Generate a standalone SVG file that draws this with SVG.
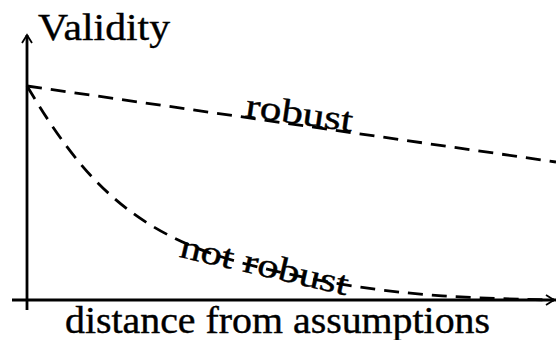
<svg xmlns="http://www.w3.org/2000/svg" width="556" height="340" viewBox="0 0 556 340">
<style>
.t{font-family:"Liberation Serif",serif;fill:#000;stroke:#000;stroke-width:0.4}
.ax{stroke:#000;stroke-width:2.8;fill:none}
.d{stroke:#000;stroke-width:2.8;fill:none;stroke-dasharray:15 9}
</style>
<defs>
<marker id="ah" markerWidth="12" markerHeight="12" refX="9" refY="6" orient="auto" markerUnits="userSpaceOnUse">
<path d="M1,1 L9,6 L1,11" fill="none" stroke="#000" stroke-width="1.8"/>
</marker>
</defs>
<g id="axes">
<line class="ax" x1="27" y1="310" x2="27" y2="35" marker-end="url(#ah)"/>
<line class="ax" x1="12" y1="300" x2="554" y2="300" marker-end="url(#ah)"/>
</g>
<g id="connectors">
<line class="d" x1="27" y1="86" x2="556" y2="162"/>
<path class="d" d="M27,86 C80,175 130,235 250,265 S450,298 556,300"/>
</g>
<g id="labels">
<text class="t" x="38" y="40" font-size="38" textLength="132" lengthAdjust="spacingAndGlyphs">Validity</text>
<text class="t" x="65" y="333" font-size="37" textLength="425" lengthAdjust="spacingAndGlyphs">distance from assumptions</text>
<text class="t" font-size="34" transform="translate(298,124) rotate(8.2)" text-anchor="middle" textLength="108" lengthAdjust="spacingAndGlyphs">robust</text>
<text class="t" font-size="34" transform="translate(262,276) rotate(13)" text-anchor="middle" textLength="172" lengthAdjust="spacingAndGlyphs">not robust</text>
</g>
</svg>
